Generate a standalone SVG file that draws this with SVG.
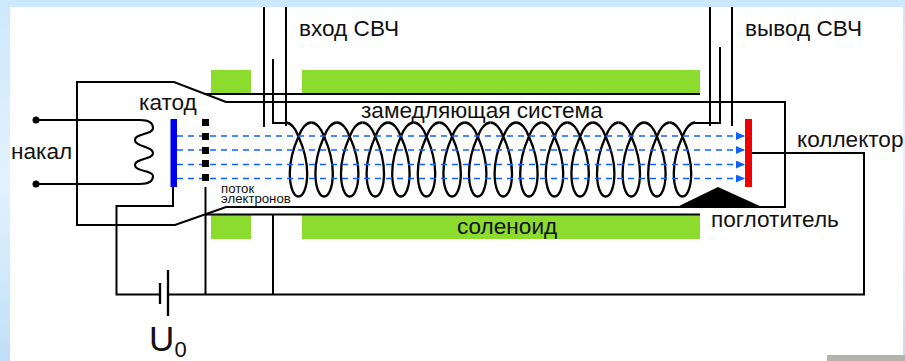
<svg xmlns="http://www.w3.org/2000/svg" width="905" height="361" viewBox="0 0 905 361">
<style>
.w{fill:none;stroke:#000;stroke-width:2}
.g{fill:#8cdb2f}
.b{fill:none;stroke:#1060ff;stroke-width:1.3;stroke-dasharray:6 5;marker-end:url(#a)}
text{font-family:"Liberation Sans",Arial,sans-serif;font-size:22.6px;fill:#111}
</style>
<defs>
<marker id="a" markerUnits="userSpaceOnUse" markerWidth="9" markerHeight="8" refX="9" refY="4" orient="auto"><path d="M0 0L9 4L0 8z" fill="#1060ff"/></marker>
<linearGradient id="bg" x1="0" y1="0" x2="0" y2="1"><stop offset="0" stop-color="#cde8fc"/><stop offset=".5" stop-color="#e3f2fd"/><stop offset="1" stop-color="#bfe0f8"/></linearGradient>
<path id="loop" class="w" style="stroke-width:2.300" d="M0 122.500c5 0 10 6 12.800 14c4 9 8.700 22 8.700 37c0 14 -4 23 -8.700 23c-4.700 0 -8.700 -9 -8.700 -23c0 -15 4.700 -28 8.700 -37c2.800 -8 7.800 -14 12.800 -14"/>
</defs>
<rect width="905" height="361" fill="url(#bg)"/>
<rect x="10" y="7" width="893" height="354" fill="#fff"/>
<rect x="827" y="355" width="78" height="6" fill="#b5b3ab"/>
<g id="magnet">
<rect class="g" x="211" y="70" width="40" height="23"/>
<rect class="g" x="302" y="70" width="398" height="23"/>
<rect class="g" x="211" y="215" width="40" height="24"/>
<rect class="g" x="302" y="215" width="398" height="24"/>
</g>
<g id="connectors">
<path class="w" d="M204 94H700M205 214.500H700"/>
<path class="w" d="M77 82H174L226 102H785V207H226L175 225H77Z"/>
<path class="w" d="M264 7V127M286 7V126M273 59V123H286M710 7V126M732 7V126M720 47V123H695"/>
<path class="w" d="M36 120H140C149 120 153 123 153 128C153 135 135 133 135 140C135 147 153 146 153 153C153 160 135 158 135 165C135 172 153 170 153 176C153 181 149 184 140 184H36"/>
<path class="w" d="M173 187V206H116.500V294.500H160M168 294.500H864V153H752M205.500 187V294.500M273 214.500V294.500"/>
<g id="coil">
<use href="#loop" x="285.700"/><use href="#loop" x="311.300"/><use href="#loop" x="336.900"/><use href="#loop" x="362.500"/>
<use href="#loop" x="388.100"/><use href="#loop" x="413.700"/><use href="#loop" x="439.300"/><use href="#loop" x="464.900"/>
<use href="#loop" x="490.500"/><use href="#loop" x="516.100"/><use href="#loop" x="541.700"/><use href="#loop" x="567.300"/>
<use href="#loop" x="592.900"/><use href="#loop" x="618.500"/><use href="#loop" x="644.100"/><use href="#loop" x="669.700"/>
</g>
<path class="b" d="M177 136H745"/>
<path class="b" d="M177 150H745"/>
<path class="b" d="M177 164.500H745"/>
<path class="b" d="M177 178.500H745"/>
</g>
<g id="filament-terminals"><circle cx="36" cy="120" r="3.500"/><circle cx="36" cy="184" r="3.500"/></g>
<g id="cathode"><rect x="170.500" y="119" width="6.500" height="68" fill="#0000f0"/></g>
<g id="grid">
<rect x="202" y="119" width="7" height="7"/><rect x="202" y="133" width="7" height="7"/><rect x="202" y="147" width="7" height="7"/><rect x="202" y="160" width="7" height="7"/><rect x="202" y="174" width="7" height="7"/>
</g>
<g id="collector"><rect x="745" y="119" width="7" height="68" fill="#f00000"/></g>
<g id="absorber"><path d="M677 207L718 187L762 207Z"/></g>
<g id="battery"><path class="w" style="stroke-width:2.300" d="M160 283V304M168 270V316"/></g>
<g id="labels">
<text x="11" y="159">накал</text>
<text x="139" y="110">катод</text>
<text x="299" y="36">вход СВЧ</text>
<text x="745" y="36">вывод СВЧ</text>
<text x="361" y="118">замедляющая система</text>
<text x="457" y="234">соленоид</text>
<text x="797" y="147">коллектор</text>
<text x="711" y="227">поглотитель</text>
<text x="221" y="193" style="font-size:13.200px">поток</text>
<text x="221" y="203" style="font-size:13.200px">электронов</text>
<text x="149" y="351" style="font-size:35px">U</text>
<text x="174.500" y="357" style="font-size:22px">0</text>
</g>
</svg>
